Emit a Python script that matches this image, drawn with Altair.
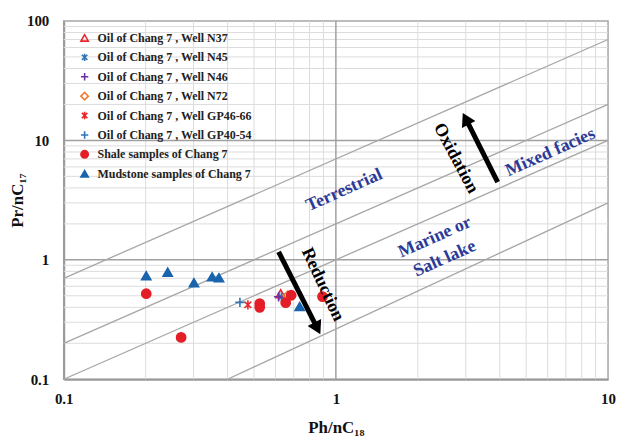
import altair as alt
import pandas as pd

# ---------------- data ----------------
series_names = [
    "Oil of Chang 7 , Well N37",
    "Oil of Chang 7 , Well N45",
    "Oil of Chang 7 , Well N46",
    "Oil of Chang 7 , Well N72",
    "Oil of Chang 7 , Well GP46-66",
    "Oil of Chang 7 , Well GP40-54",
    "Shale samples of Chang 7",
    "Mudstone samples of Chang 7",
]
n37_x = [0.627]; n37_y = [0.52]
n45_x = [0.631]; n45_y = [0.49]
n46_x = [0.616]; n46_y = [0.49]
n72_x = [0.665]; n72_y = [0.50]
gp4666_x = [0.475]; gp4666_y = [0.42]
gp4054_x = [0.444]; gp4054_y = [0.44]
shale_x = [0.201, 0.270, 0.525, 0.525, 0.654, 0.685, 0.893]
shale_y = [0.520, 0.224, 0.430, 0.400, 0.438, 0.505, 0.492]
mud_x = [0.201, 0.241, 0.301, 0.351, 0.372, 0.736]
mud_y = [0.736, 0.789, 0.643, 0.721, 0.708, 0.406]

series_x = [n37_x, n45_x, n46_x, n72_x, gp4666_x, gp4054_x, shale_x, mud_x]
series_y = [n37_y, n45_y, n46_y, n72_y, gp4666_y, gp4054_y, shale_y, mud_y]

stroke_colors = ["#E8262A", "#2E75B6", "#7030A0", "#ED7D31", "#E8262A", "#2E75B6", "#E41E26", "#1A64AE"]
fill_colors = ["transparent"] * 6 + ["#E41E26", "#1A64AE"]
ASTER = "M0,-1L0,1M-0.75,-0.7L0.75,0.7M-0.75,0.7L0.75,-0.7"
PLUS = "M-1,0L1,0M0,-1L0,1"
shapes = ["triangle-up", ASTER, PLUS, "diamond", ASTER, PLUS, "circle", "triangle-up"]

# facies boundary lines (Pr/nC17 vs Ph/nC18)
guide_id = ["a", "a", "b", "b", "c", "c", "d", "d"]
guide_x = [0.1, 10, 0.1, 10, 0.1, 10, 0.4, 10]
guide_y = [0.7, 70, 0.2, 20, 0.1, 10, 0.1, 3]

# grid values
minor_x = [0.2, 0.3, 0.4, 0.5, 0.6, 0.7, 0.8, 0.9, 2, 3, 4, 5, 6, 7, 8, 9]
major_x = [1]
minor_y = [0.2, 0.3, 0.4, 0.5, 0.6, 0.7, 0.8, 0.9, 2, 3, 4, 5, 6, 7, 8, 9,
           20, 30, 40, 50, 60, 70, 80, 90]
major_y = [1, 10]

# arrows: tail -> head
ox_arrow_x = [3.93, 3.0]; ox_arrow_y = [4.47, 15.2]
red_arrow_x = [0.616, 0.855]; red_arrow_y = [1.166, 0.267]

# ---------------- build ----------------
rows = []
for name, xs_, ys_ in zip(series_names, series_x, series_y):
    for a, b in zip(xs_, ys_):
        rows.append({"series": name, "x": a, "y": b})
pts = pd.DataFrame(rows)

guides = pd.DataFrame({"id": guide_id, "x": guide_x, "y": guide_y})

SERIF = "Liberation Serif"
xs = alt.Scale(type="log", domain=[0.1, 10], nice=False)
ys = alt.Scale(type="log", domain=[0.1, 100], nice=False)
xaxis = alt.Axis(values=[0.1, 1, 10], format="~g", grid=False, ticks=False,
                 labelFlush=False, labelPadding=12, title="Ph/nC₁₈",
                 titlePadding=14)
yaxis = alt.Axis(values=[0.1, 1, 10, 100], format="~g", grid=False, ticks=False,
                 labelFlush=False, labelPadding=15, title="Pr/nC₁₇",
                 titlePadding=0)


def X(field="x"):
    return alt.X(field, type="quantitative", scale=xs, axis=xaxis)


def Y(field="y"):
    return alt.Y(field, type="quantitative", scale=ys, axis=yaxis)


grid_minor_x = alt.Chart(pd.DataFrame({"x": minor_x})).mark_rule(
    color="#DCDCDC", strokeWidth=1).encode(x=X())
grid_minor_y = alt.Chart(pd.DataFrame({"y": minor_y})).mark_rule(
    color="#DCDCDC", strokeWidth=1).encode(y=Y())
grid_major_x = alt.Chart(pd.DataFrame({"x": major_x})).mark_rule(
    color="#A0A0A0", strokeWidth=1.5).encode(x=X())
grid_major_y = alt.Chart(pd.DataFrame({"y": major_y})).mark_rule(
    color="#A0A0A0", strokeWidth=1.5).encode(y=Y())

guide_lines = alt.Chart(guides).mark_line(color="#A6A6A6", strokeWidth=1.3).encode(
    x=X(), y=Y(), detail="id:N")

leg = alt.Legend(title=None, orient="none", legendX=15, legendY=11, symbolSize=55,
                 rowPadding=5.5)
points = alt.Chart(pts).mark_point(size=85, strokeWidth=1.6, opacity=1).encode(
    x=X(), y=Y(),
    shape=alt.Shape("series:N", scale=alt.Scale(domain=series_names, range=shapes), legend=leg),
    fill=alt.Fill("series:N", scale=alt.Scale(domain=series_names, range=fill_colors), legend=leg),
    stroke=alt.Stroke("series:N", scale=alt.Scale(domain=series_names, range=stroke_colors), legend=leg),
)

ox_df = pd.DataFrame({"x": ox_arrow_x, "y": ox_arrow_y})
red_df = pd.DataFrame({"x": red_arrow_x, "y": red_arrow_y})
ox_line = alt.Chart(ox_df).mark_line(color="black", strokeWidth=5).encode(x=X(), y=Y())
red_line = alt.Chart(red_df).mark_line(color="black", strokeWidth=5).encode(x=X(), y=Y())
ox_head = alt.Chart(ox_df.iloc[[1]]).mark_point(
    shape="triangle-up", filled=True, color="black", size=230, angle=333, opacity=1
).encode(x=X(), y=Y())
red_head = alt.Chart(red_df.iloc[[1]]).mark_point(
    shape="triangle-up", filled=True, color="black", size=230, angle=153, opacity=1
).encode(x=X(), y=Y())

BLUE_TXT = "#2B3A97"


def label(text, x, y, angle, color, size):
    return alt.Chart(pd.DataFrame({"x": [x], "y": [y], "t": [text]})).mark_text(
        font=SERIF, fontWeight="bold", fontSize=size, color=color, angle=angle,
        align="center", baseline="middle"
    ).encode(x=X(), y=Y(), text="t:N")


texts = [
    label("Terrestrial", 1.074, 3.83, 336, BLUE_TXT, 18),
    label("Mixed facies", 6.14, 7.94, 336, BLUE_TXT, 18),
    label("Marine or", 2.31, 1.545, 336, BLUE_TXT, 18),
    label("Salt lake", 2.51, 1.02, 336, BLUE_TXT, 18),
    label("Oxidation", 2.76, 7.08, 62, "black", 18),
    label("Reduction", 0.893, 0.62, 65, "black", 18),
]

chart = alt.layer(
    grid_minor_x, grid_minor_y, grid_major_x, grid_major_y, guide_lines,
    points, ox_line, red_line, ox_head, red_head, *texts
).properties(
    width=547, height=360,
    autosize=alt.AutoSizeParams(type="none"),
    padding={"left": 56, "top": 12, "right": 8, "bottom": 60},
).configure_view(
    stroke="#A6A6A6", strokeWidth=1.5
).configure_axis(
    domainColor="#999999", domainWidth=2,
    labelFont=SERIF, labelFontWeight="bold", labelFontSize=15, labelColor="#111111",
    titleFont=SERIF, titleFontWeight="bold", titleFontSize=17, titleColor="#111111",
).configure_legend(
    labelFont=SERIF, labelFontWeight="bold", labelFontSize=12, labelColor="#222222",
    symbolStrokeWidth=1.6, labelOffset=7, padding=0,
)

chart.save("out.html", embed_options={"renderer": "svg", "actions": False})
